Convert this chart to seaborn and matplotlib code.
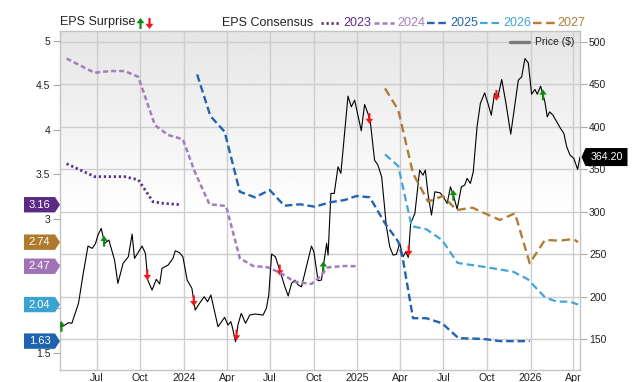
import numpy as np
import pandas as pd
import matplotlib
matplotlib.use("Agg")
import matplotlib.pyplot as plt
import matplotlib.dates as mdates
import matplotlib.transforms as mtrans
from matplotlib.path import Path
from matplotlib.lines import Line2D
import seaborn as sns

# ---------------- data ----------------
price_dates = [
    "2023-04-15", "2023-04-22", "2023-05-03", "2023-05-10", "2023-05-24", "2023-06-03", "2023-06-13",
    "2023-06-22", "2023-06-29", "2023-07-04", "2023-07-11", "2023-07-18", "2023-07-27", "2023-08-08",
    "2023-08-15", "2023-08-26", "2023-09-06", "2023-09-14", "2023-09-19", "2023-10-05", "2023-10-12",
    "2023-10-17", "2023-10-26", "2023-11-04", "2023-11-11", "2023-11-16", "2023-11-29", "2023-12-09",
    "2023-12-14", "2023-12-23", "2023-12-30", "2024-01-08", "2024-01-18", "2024-01-25", "2024-02-03",
    "2024-02-13", "2024-02-20", "2024-02-27", "2024-03-13", "2024-03-27", "2024-04-03", "2024-04-09",
    "2024-04-12", "2024-04-19", "2024-04-24", "2024-05-01", "2024-05-10", "2024-05-19", "2024-05-30",
    "2024-06-16", "2024-06-23", "2024-06-28", "2024-07-04", "2024-07-12", "2024-07-21", "2024-08-01",
    "2024-08-08", "2024-08-15", "2024-08-22", "2024-08-29", "2024-09-05", "2024-09-12", "2024-09-19",
    "2024-09-26", "2024-10-01", "2024-10-10", "2024-10-17", "2024-10-28", "2024-10-31", "2024-11-06",
    "2024-11-13", "2024-11-21", "2024-11-27", "2024-12-12", "2024-12-19", "2024-12-26", "2025-01-09",
    "2025-01-16", "2025-01-23", "2025-01-28", "2025-02-06", "2025-02-13", "2025-02-21", "2025-03-03",
    "2025-03-10", "2025-03-17", "2025-03-24", "2025-03-31", "2025-04-07", "2025-04-13", "2025-04-18",
    "2025-04-23", "2025-05-02", "2025-05-12", "2025-05-19", "2025-05-24", "2025-05-30", "2025-06-06",
    "2025-06-13", "2025-06-24", "2025-07-01", "2025-07-09", "2025-07-16", "2025-07-23", "2025-07-30",
    "2025-08-08", "2025-08-15", "2025-08-20", "2025-08-27", "2025-09-02", "2025-09-10", "2025-09-17",
    "2025-09-26", "2025-10-03", "2025-10-10", "2025-10-17", "2025-10-24", "2025-11-01", "2025-11-10",
    "2025-11-20", "2025-11-29", "2025-12-06", "2025-12-13", "2025-12-20", "2025-12-27", "2026-01-03",
    "2026-01-10", "2026-01-15", "2026-01-22", "2026-01-31", "2026-02-05", "2026-02-10", "2026-02-17",
    "2026-02-25", "2026-03-05", "2026-03-12", "2026-03-18", "2026-03-25", "2026-04-02", "2026-04-10",
    "2026-04-15",
]
price_values = [
    164.5, 165.3, 169.2, 168.5, 192.0, 227.3, 259.4, 256.7, 262.6, 272.4, 280.2, 262.6, 266.5, 242.9,
    215.5, 239.1, 246.8, 273.5, 244.9, 259.4, 250.8, 219.4, 207.6, 220.2, 214.7, 233.2, 237.1, 244.9,
    253.9, 251.5, 246.8, 219.4, 209.6, 184.1, 192.0, 199.8, 193.9, 201.8, 164.5, 175.5, 166.5, 170.4,
    164.5, 146.8, 166.5, 180.2, 168.5, 178.2, 179.4, 178.2, 186.1, 201.8, 250.0, 246.8, 231.2, 211.5,
    200.6, 215.5, 219.4, 213.5, 211.5, 227.3, 242.9, 259.4, 252.7, 218.6, 219.4, 262.6, 248.8, 321.4,
    321.4, 352.7, 345.0, 435.9, 423.3, 431.2, 395.1, 426.1, 415.5, 405.7, 360.6, 354.7, 340.9, 282.1,
    258.6, 248.8, 249.6, 262.6, 246.8, 252.7, 246.0, 286.1, 297.9, 348.8, 342.9, 348.8, 319.4, 295.9,
    323.3, 322.1, 317.4, 309.6, 329.2, 317.4, 302.9, 329.2, 331.2, 339.1, 333.2, 346.8, 399.8, 427.3,
    439.8, 427.3, 413.5, 439.1, 435.1, 455.5, 427.3, 391.2, 427.3, 454.7, 458.6, 480.2, 475.1, 438.2,
    443.8, 438.2, 447.7, 429.2, 411.5, 417.4, 413.5, 405.7, 397.9, 392.0, 376.2, 366.5, 362.6, 349.7,
    364.2,
]

eps2023_dates = ["2023-04-29", "2023-06-27", "2023-08-29", "2023-09-27", "2023-10-28", "2023-11-18", "2023-12-27"]
eps2023_values = [3.62, 3.475, 3.475, 3.44, 3.194, 3.176, 3.16]

eps2024_dates = ["2023-04-29", "2023-06-27", "2023-07-29", "2023-08-29", "2023-09-27", "2023-11-01",
                 "2023-11-29", "2023-12-30", "2024-01-24", "2024-02-24", "2024-03-30", "2024-04-28",
                 "2024-05-26", "2024-06-26", "2024-07-24", "2024-08-21", "2024-09-26", "2024-10-14",
                 "2024-10-31", "2024-12-05", "2024-12-30"]
eps2024_values = [4.80, 4.64, 4.66, 4.66, 4.595, 4.054, 3.942, 3.894, 3.53, 3.165, 3.146, 2.56,
                  2.473, 2.458, 2.391, 2.297, 2.271, 2.353, 2.458, 2.473, 2.47]

eps2025_dates = ["2024-01-29", "2024-02-26", "2024-03-27", "2024-04-28", "2024-05-30", "2024-06-30",
                 "2024-07-31", "2024-09-02", "2024-10-03", "2024-11-04", "2024-12-05", "2024-12-30",
                 "2025-01-27", "2025-02-28", "2025-03-28", "2025-04-07", "2025-04-28", "2025-05-26",
                 "2025-06-28", "2025-08-02", "2025-09-23", "2025-10-28", "2025-12-30"]
eps2025_values = [4.622, 4.155, 3.979, 3.306, 3.243, 3.325, 3.149, 3.165, 3.138, 3.187, 3.213, 3.258,
                  3.243, 2.952, 2.746, 2.54, 1.887, 1.887, 1.831, 1.663, 1.655, 1.63, 1.63]

eps2026_dates = ["2025-02-28", "2025-03-28", "2025-04-25", "2025-05-26", "2025-06-28", "2025-07-31",
                 "2025-09-23", "2025-11-25", "2025-12-26", "2026-01-31", "2026-02-25", "2026-03-25",
                 "2026-04-11"]
eps2026_values = [3.725, 3.594, 2.92, 2.885, 2.765, 2.507, 2.465, 2.409, 2.324, 2.122, 2.073, 2.073, 2.04]

eps2027_dates = ["2025-02-28", "2025-03-28", "2025-04-28", "2025-05-30", "2025-06-30", "2025-07-29",
                 "2025-08-31", "2025-10-28", "2025-11-29", "2025-12-30", "2026-01-31", "2026-03-04",
                 "2026-04-01", "2026-04-11"]
eps2027_values = [4.465, 4.222, 3.512, 3.194, 3.258, 3.10, 3.127, 2.989, 3.064, 2.503, 2.765, 2.757,
                  2.776, 2.74]

surprise_dates = ["2023-04-18", "2023-07-17", "2023-10-16", "2024-01-22", "2024-04-21", "2024-07-21",
                  "2024-10-21", "2025-01-26", "2025-04-19", "2025-07-22", "2025-10-21", "2026-01-27"]
surprise_dirs = ["up", "up", "down", "down", "down", "down", "up", "down", "down", "up", "down", "up"]

series_names = ["2023", "2024", "2025", "2026", "2027"]
series_colors = ["#5b2d86", "#a57cbd", "#2462b2", "#43a6d6", "#b07d36"]
tag_colors = {"2023": "#5a2a84", "2027": "#b07a2e", "2024": "#9f73b5", "2026": "#3aa3d0", "2025": "#1f63b0"}

eps_ticks = [1.5, 2, 2.5, 3, 3.5, 4, 4.5, 5]
eps_tick_labels = ["1.5", "", "", "3", "3.5", "4", "4.5", "5"]  # 2 and 2.5 sit under the tags

# ---------------- style ----------------
sns.set_style("white")
plt.rcParams["font.family"] = ["Liberation Sans", "DejaVu Sans"]

W, H = 640, 382
fig = plt.figure(figsize=(W / 100, H / 100), dpi=100)
ax = fig.add_axes([60 / W, 12 / H, 520 / W, 339 / H])

pdates = pd.to_datetime(price_dates)
sns.lineplot(x=pdates, y=price_values, ax=ax, color="black", lw=0.8, zorder=3)

# EPS surprise arrows on price
up_path = Path([(-0.2, -1), (0.2, -1), (0.2, 0.05), (0.7, 0.05), (0, 1), (-0.7, 0.05), (-0.2, 0.05), (-0.2, -1)],
               closed=True)
down_path = Path([(x, -y) for x, y in up_path.vertices], closed=True)
sd = pd.to_datetime(surprise_dates)
sy = np.interp(mdates.date2num(sd), mdates.date2num(pdates), price_values)
for d, y, k in zip(sd, sy, surprise_dirs):
    if k == "up":
        sns.scatterplot(x=[d], y=[y], ax=ax, marker=up_path, s=60, color="#0e8a0e", edgecolor="none", zorder=6)
    else:
        sns.scatterplot(x=[d], y=[y], ax=ax, marker=down_path, s=60, color="#f21616", edgecolor="none", zorder=6)

# gradient background
grad = np.clip(np.linspace(0, 1, 256) / 0.55, 0, 1)
grad = (0.9 + 0.1 * grad)[:, None]
ax.imshow(grad, extent=(0, 1, 0, 1), transform=ax.transAxes, aspect="auto", cmap="gray",
          vmin=0, vmax=1, origin="upper", zorder=0, interpolation="bilinear")

ax.set_xlim(pd.Timestamp("2023-04-15"), pd.Timestamp("2026-04-15"))
ax.set_ylim(113.5, 512.6)
ax.set_yticks(range(150, 501, 50))
ax.xaxis.set_major_locator(mdates.MonthLocator(bymonth=[1, 4, 7, 10]))
ax.xaxis.set_major_formatter(plt.FuncFormatter(
    lambda v, p: str(mdates.num2date(v).year) if mdates.num2date(v).month == 1 else mdates.num2date(v).strftime("%b")))
ax.grid(True, color="#cdcdcd", lw=1)
ax.set_axisbelow(True)
ax.set_xlabel("")
ax.set_ylabel("")
for s in ["left", "bottom", "right", "top"]:
    ax.spines[s].set_color("#c4c4c4")
    ax.spines[s].set_linewidth(1)

# EPS consensus on left axis
ax_e = ax.twinx()
eps_dates = [eps2023_dates, eps2024_dates, eps2025_dates, eps2026_dates, eps2027_dates]
eps_vals = [eps2023_values, eps2024_values, eps2025_values, eps2026_values, eps2027_values]
styles = [(0, (0.8, 1.0)), (0, (2.0, 1.2)), (0, (3.2, 1.6)), (0, (3.4, 1.8)), (0, (3.6, 2.0))]
widths = [2.0, 1.8, 1.7, 1.6, 1.7]
for d, v, c, ls, lw in zip(eps_dates, eps_vals, series_colors, styles, widths):
    sns.lineplot(x=pd.to_datetime(d), y=v, ax=ax_e, color=c, lw=lw, linestyle=ls, zorder=4)

# axes placement of ticks (after twinx, which resets the host ticks)
ax.yaxis.tick_right()
ax.yaxis.set_label_position("right")
ax.tick_params(axis="x", length=0, pad=2, labelsize=7.7, labelcolor="#222")
ax.tick_params(axis="y", left=False, labelleft=False, right=True, labelright=True, length=5, width=0.8,
               color="#aaaaaa", pad=1.5, labelsize=7.5, labelcolor="#222")

ax_e.set_ylim(1.306, 5.109)
ax_e.yaxis.tick_left()
ax_e.set_yticks(eps_ticks)
ax_e.set_yticklabels(eps_tick_labels)
ax_e.tick_params(axis="y", left=True, labelleft=True, right=False, labelright=False, length=5, width=0.8,
                 color="#aaaaaa", pad=2, labelsize=7.5, labelcolor="#222")
ax_e.grid(False)
ax_e.set_ylabel("")
for s in ["left", "bottom", "right", "top"]:
    ax_e.spines[s].set_visible(False)
ax_e.set_xlim(pd.Timestamp("2023-04-15"), pd.Timestamp("2026-04-15"))


def tag_style(half_w, half_h, tip, side):
    def style(x0, y0, width, height, mutation_size):
        cx = x0 + width / 2
        cy = y0 + height / 2
        if side == "right":
            verts = [(cx - half_w, cy - half_h), (cx + half_w, cy - half_h), (cx + half_w + tip, cy),
                     (cx + half_w, cy + half_h), (cx - half_w, cy + half_h), (cx - half_w, cy - half_h)]
        else:
            verts = [(cx + half_w, cy - half_h), (cx - half_w, cy - half_h), (cx - half_w - tip, cy),
                     (cx - half_w, cy + half_h), (cx + half_w, cy + half_h), (cx + half_w, cy - half_h)]
        return Path(verts, closed=True)
    return style


blend_e = mtrans.blended_transform_factory(ax_e.transAxes, ax_e.transData)
for name, v in zip(series_names, [vals[-1] for vals in eps_vals]):
    ax_e.text((39.5 - 60) / 520, v, f"{v:.2f}", transform=blend_e, ha="center", va="center",
              color="white", fontsize=8, zorder=10, clip_on=False,
              bbox=dict(boxstyle=tag_style(15.5, 7.7, 5, "right"), fc=tag_colors[name], ec="none"))

blend_p = mtrans.blended_transform_factory(ax_e.transAxes, ax.transData)
ax_e.text((606.5 - 60) / 520, price_values[-1], f"{price_values[-1]:.2f}", transform=blend_p,
          ha="center", va="center", color="white", fontsize=7.7, zorder=10, clip_on=False,
          bbox=dict(boxstyle=tag_style(21, 9, 4, "left"), fc="black", ec="none"))

# ---------------- legends ----------------
def fx(x):
    return x / W


def fy(y):
    return 1 - y / H


ly = 22.5
fig.text(fx(60), fy(ly), "EPS Surprise", ha="left", va="center", fontsize=9, color="#222")
fig.add_artist(Line2D([fx(139.5)], [fy(ly)], marker=up_path, ms=8, color="#0e8a0e", mec="none", ls="none",
                      transform=fig.transFigure))
fig.add_artist(Line2D([fx(148.5)], [fy(ly)], marker=down_path, ms=8, color="#f21616", mec="none", ls="none",
                      transform=fig.transFigure))
fig.text(fx(222), fy(ly), "EPS Consensus", ha="left", va="center", fontsize=9, color="#222")
samples = [(321, 340, 343.8), (374, 394, 397), (427, 447, 450), (480, 499, 503.8), (533, 555, 557)]
for (x0, x1, tx), name, c, ls, lw in zip(samples, series_names, series_colors, styles, widths):
    fig.add_artist(Line2D([fx(x0), fx(x1)], [fy(ly), fy(ly)], color=c, ls=ls, lw=lw,
                          transform=fig.transFigure))
    fig.text(fx(tx), fy(ly), name, ha="left", va="center", fontsize=9, color=c)

fig.add_artist(Line2D([fx(510), fx(529)], [fy(41.7), fy(41.7)], color="#7a7a7a", lw=2.4,
                      transform=fig.transFigure))
fig.text(fx(535), fy(41.7), "Price ($)", ha="left", va="center", fontsize=7.5, color="#222")

fig.savefig("out.png", dpi=100)
